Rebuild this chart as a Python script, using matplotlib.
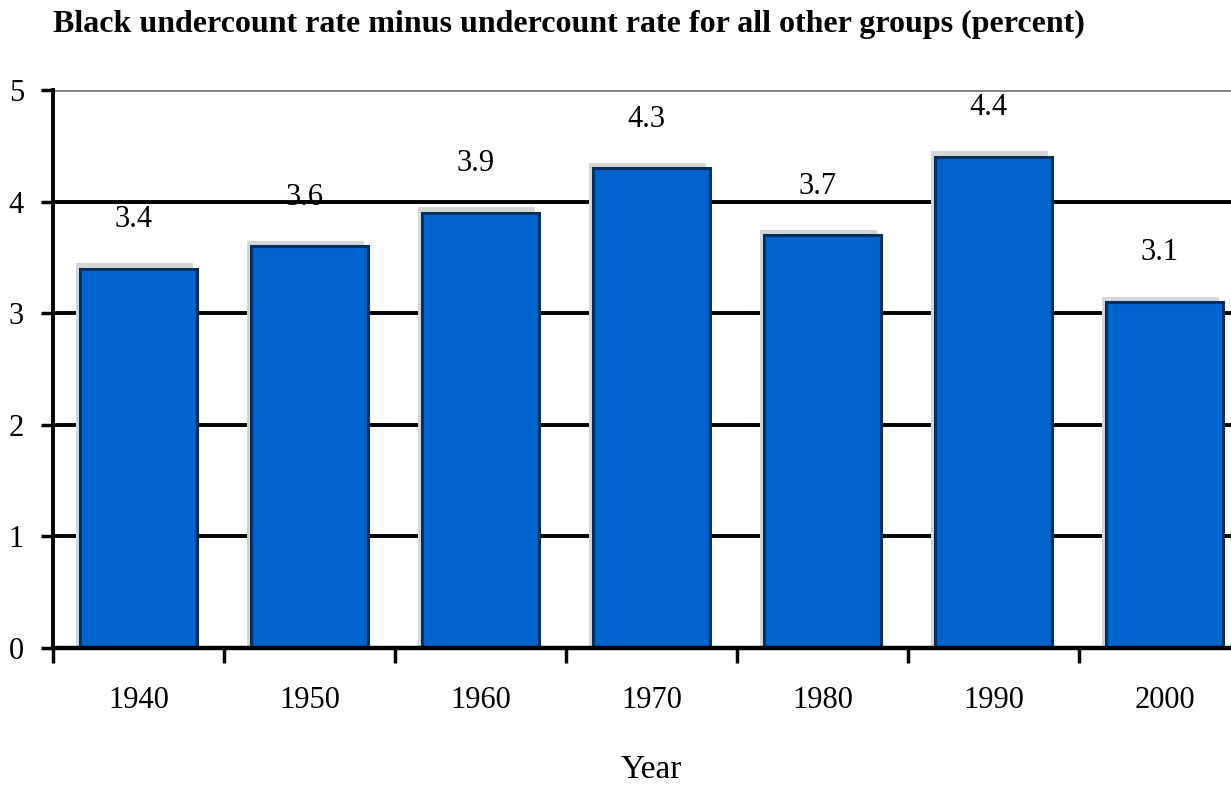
import matplotlib.pyplot as plt
import matplotlib.patheffects as pe
import numpy as np

# dados
anos = ["1940", "1950", "1960", "1970", "1980", "1990", "2000"]
diferenca = [3.4, 3.6, 3.9, 4.3, 3.7, 4.4, 3.1]
yticks = [0, 1, 2, 3, 4, 5]

titulo = "Black undercount rate minus undercount rate for all other groups (percent)"
fonte = ["Liberation Serif", "DejaVu Serif"]

fig = plt.figure(figsize=(12.31, 7.92), dpi=100)
ax = fig.add_axes([0.0431, 0.1818, 0.9724, 0.7045])

x = np.arange(len(anos))

# barras com uma sombra cinza leve
bars = ax.bar(x, diferenca, width=0.685, color="#0064CC", edgecolor="#00305F",
              linewidth=2.2, zorder=3)
for b in bars:
    b.set_path_effects([
        pe.SimplePatchShadow(offset=(-3, 4), shadow_rgbFace="#D6D6D6", alpha=1.0),
        pe.SimplePatchShadow(offset=(-3, -6), shadow_rgbFace="#D6D6D6", alpha=1.0),
        pe.Normal()])

# rotulos de valor
for xi, v in zip(x, diferenca):
    ax.text(xi - 0.03, v + 0.44, f"{v:.1f}", ha="center", va="center",
            fontsize=22, family=fonte)

ax.set_xlim(-0.5, len(anos) - 0.5)
ax.set_ylim(0, 5)
ax.set_yticks(yticks)
ax.set_yticklabels([str(t) for t in yticks], fontsize=22, family=fonte)

# grade horizontal
ax.yaxis.grid(True, color="black", linewidth=2.8, zorder=0)
ax.set_axisbelow(True)
linhas = ax.yaxis.get_gridlines()
linhas[-1].set_color("#808080")

ax.set_xticks(x)
ax.set_xticklabels(anos, fontsize=22, family=fonte)
ax.set_xticks(np.arange(len(anos) + 1) - 0.5, minor=True)
ax.tick_params(axis="x", which="major", length=0, pad=27)
ax.tick_params(axis="x", which="minor", length=11, width=2.5, direction="out")
ax.tick_params(axis="y", length=9, width=2.5, direction="out", pad=12)

for s in ["top", "right"]:
    ax.spines[s].set_visible(False)
ax.spines["left"].set_linewidth(2.8)
ax.spines["bottom"].set_linewidth(3.2)
ax.spines["left"].set_zorder(4)
ax.spines["bottom"].set_zorder(4)

ax.set_xlabel("Year", fontsize=24, family=fonte, labelpad=29)

fig.text(0.043, 0.988, titulo, ha="left", va="top", fontsize=23,
         fontweight="bold", family=fonte)

fig.savefig("out.png", dpi=100)
